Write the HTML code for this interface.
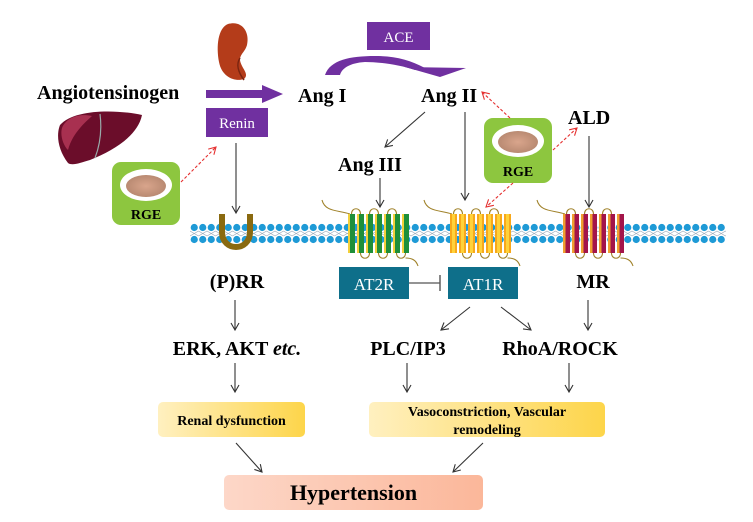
<!DOCTYPE html>
<html><head><meta charset="utf-8"><style>
html,body{margin:0;padding:0;background:#fff;}
svg{display:block;}
text{font-family:"Liberation Serif",serif;}
</style></head><body>
<svg width="753" height="522" viewBox="0 0 753 522" xmlns="http://www.w3.org/2000/svg">
<defs>
<pattern id="mem" x="190" y="0" width="8.5" height="522" patternUnits="userSpaceOnUse">
<line x1="0" y1="231" x2="8.5" y2="236" stroke="#9aa9b8" stroke-width="0.6"/>
<line x1="0" y1="236" x2="8.5" y2="231" stroke="#9aa9b8" stroke-width="0.6"/>
<circle cx="4.25" cy="227.5" r="3.6" fill="#1e9ad6"/>
<circle cx="4.25" cy="239.5" r="3.6" fill="#1e9ad6"/>
</pattern>
<marker id="ah" markerWidth="10" markerHeight="10" refX="8" refY="5" orient="auto" markerUnits="userSpaceOnUse">
<path d="M1,1 L8,5 L1,9" fill="none" stroke="#333" stroke-width="1.1"/></marker>
<marker id="rh" markerWidth="10" markerHeight="10" refX="8" refY="5" orient="auto" markerUnits="userSpaceOnUse">
<path d="M1,1 L8,5 L1,9" fill="none" stroke="#e53030" stroke-width="1.1"/></marker>
<linearGradient id="yg" x1="0" x2="1"><stop offset="0" stop-color="#fff0c0"/><stop offset="1" stop-color="#fdd54a"/></linearGradient>
<linearGradient id="pg" x1="0" x2="1"><stop offset="0" stop-color="#fdd7c8"/><stop offset="1" stop-color="#fbb79a"/></linearGradient>
<radialGradient id="food"><stop offset="0" stop-color="#d9a58c"/><stop offset="1" stop-color="#b98a72"/></radialGradient>
<g id="loops" stroke="#a0822a" stroke-width="1.1" fill="none">
<path d="M351.5,214 C351.5,207 360.5,207 360.5,214"/><path d="M369.5,214 C369.5,207 378.5,207 378.5,214"/><path d="M387.5,214 C387.5,207 396.5,207 396.5,214"/>
<path d="M360.5,253 C360.5,260 369.5,260 369.5,253"/><path d="M378.5,253 C378.5,260 387.5,260 387.5,253"/><path d="M396.5,253 C396.5,260 405.5,260 405.5,253"/>
<path d="M322,200 C325,212 338,210 350,214"/>
<path d="M405.5,258 C412,258 416,260 418,266"/>
</g>
</defs>

<rect x="190" y="222" width="536" height="22" fill="url(#mem)"/>

<text x="37" y="99" font-size="20" font-weight="bold">Angiotensinogen</text>
<path d="M60,125 C75,108 120,110 142,115 C138,135 115,150 90,160 C80,163 72,166 68,163 C58,150 56,135 60,125Z" fill="#6b0d2a"/>
<path d="M62,128 C66,118 78,113 92,116 C82,125 72,135 68,150 C63,145 60,135 62,128Z" fill="#a83050"/>
<path d="M100,114 C102,130 100,145 95,158" stroke="#9aa" stroke-width="1.2" fill="none"/>

<path d="M228,24 C242,20 250,32 247,45 C245,52 240,54 240,60 C241,68 250,74 244,79 C236,82 222,78 219,62 C216,46 218,28 228,24Z" fill="#b43c1a"/>
<path d="M240,58 C236,64 238,72 244,80" stroke="#7a2410" stroke-width="1.5" fill="none"/>

<polygon points="206,90 262,90 262,85 283,94 262,103 262,98 206,98" fill="#7030a0"/>
<rect x="206" y="108" width="62" height="29" fill="#7030a0"/>
<text x="237" y="128" font-size="15" fill="#fff" text-anchor="middle">Renin</text>

<text x="298" y="102" font-size="20" font-weight="bold">Ang I</text>

<rect x="367" y="22" width="63" height="28" fill="#7030a0"/>
<text x="398.5" y="42" font-size="15" fill="#fff" text-anchor="middle">ACE</text>
<path d="M325,75 C330,60 350,56 375,56 C395,56 410,60 425,68 L415,70 C400,65 380,62 365,62 C350,63 342,68 340,75 Z" fill="#7030a0"/>
<polygon points="405,67 466,68 440,77" fill="#7030a0"/>

<text x="421" y="102" font-size="20" font-weight="bold">Ang II</text>
<text x="568" y="124" font-size="20" font-weight="bold">ALD</text>
<text x="338" y="171" font-size="20" font-weight="bold">Ang III</text>

<g>
<rect x="112" y="162" width="68" height="63" rx="9" fill="#8dc63f"/>
<ellipse cx="146" cy="185" rx="26" ry="16" fill="#fff"/>
<ellipse cx="146" cy="186" rx="20" ry="11" fill="url(#food)"/>
<text x="146" y="219" font-size="14" font-weight="bold" text-anchor="middle">RGE</text>
</g>
<g>
<rect x="484" y="118" width="68" height="65" rx="9" fill="#8dc63f"/>
<ellipse cx="518" cy="141" rx="26" ry="16" fill="#fff"/>
<ellipse cx="518" cy="142" rx="20" ry="11" fill="url(#food)"/>
<text x="518" y="176" font-size="14" font-weight="bold" text-anchor="middle">RGE</text>
</g>

<g stroke="#e53030" stroke-width="1.1" stroke-dasharray="3,2" fill="none">
<line x1="181" y1="182" x2="216" y2="147" marker-end="url(#rh)"/>
<line x1="510" y1="118" x2="482" y2="92" marker-end="url(#rh)"/>
<line x1="553" y1="150" x2="577" y2="128" marker-end="url(#rh)"/>
<line x1="513" y1="183" x2="486" y2="207" marker-end="url(#rh)"/>
</g>

<g stroke="#333" stroke-width="1.1" fill="none">
<line x1="236" y1="143" x2="236" y2="213" marker-end="url(#ah)"/>
<line x1="425" y1="112" x2="385" y2="147" marker-end="url(#ah)"/>
<line x1="380" y1="178" x2="380" y2="207" marker-end="url(#ah)"/>
<line x1="465" y1="112" x2="465" y2="200" marker-end="url(#ah)"/>
<line x1="589" y1="136" x2="589" y2="207" marker-end="url(#ah)"/>
<line x1="235" y1="300" x2="235" y2="330" marker-end="url(#ah)"/>
<line x1="470" y1="307" x2="441" y2="330" marker-end="url(#ah)"/>
<line x1="501" y1="307" x2="531" y2="330" marker-end="url(#ah)"/>
<line x1="588" y1="300" x2="588" y2="330" marker-end="url(#ah)"/>
<line x1="235" y1="363" x2="235" y2="392" marker-end="url(#ah)"/>
<line x1="407" y1="363" x2="407" y2="392" marker-end="url(#ah)"/>
<line x1="569" y1="363" x2="569" y2="392" marker-end="url(#ah)"/>
<line x1="236" y1="443" x2="262" y2="472" marker-end="url(#ah)"/>
<line x1="483" y1="443" x2="453" y2="472" marker-end="url(#ah)"/>
</g>

<path d="M222,214 L222,232 C222,252 250,252 250,232 L250,214" stroke="#8a6a10" stroke-width="6" fill="none"/>

<g>
<use href="#loops"/>
<g fill="#1e8f3a">
<rect x="348" y="214" width="7" height="39"/><rect x="357" y="214" width="7" height="39"/><rect x="366" y="214" width="7" height="39"/><rect x="375" y="214" width="7" height="39"/><rect x="384" y="214" width="7" height="39"/><rect x="393" y="214" width="7" height="39"/><rect x="402" y="214" width="7" height="39"/>
</g>
<g fill="#f2d03a"><rect x="348" y="214" width="2" height="39"/><rect x="357" y="214" width="2" height="39"/><rect x="366" y="214" width="2" height="39"/><rect x="375" y="214" width="2" height="39"/><rect x="384" y="214" width="2" height="39"/><rect x="393" y="214" width="2" height="39"/><rect x="402" y="214" width="2" height="39"/></g>
</g>
<g transform="translate(102,0)">
<use href="#loops"/>
<g fill="#f7a81b">
<rect x="348" y="214" width="7" height="39"/><rect x="357" y="214" width="7" height="39"/><rect x="366" y="214" width="7" height="39"/><rect x="375" y="214" width="7" height="39"/><rect x="384" y="214" width="7" height="39"/><rect x="393" y="214" width="7" height="39"/><rect x="402" y="214" width="7" height="39"/>
</g>
<g fill="#ffd23a"><rect x="350" y="214" width="3" height="39"/><rect x="359" y="214" width="3" height="39"/><rect x="368" y="214" width="3" height="39"/><rect x="377" y="214" width="3" height="39"/><rect x="386" y="214" width="3" height="39"/><rect x="395" y="214" width="3" height="39"/><rect x="404" y="214" width="3" height="39"/></g>
</g>
<g transform="translate(215,0)">
<use href="#loops"/>
<g fill="#a3154a">
<rect x="348" y="214" width="7" height="39"/><rect x="357" y="214" width="7" height="39"/><rect x="366" y="214" width="7" height="39"/><rect x="375" y="214" width="7" height="39"/><rect x="384" y="214" width="7" height="39"/><rect x="393" y="214" width="7" height="39"/><rect x="402" y="214" width="7" height="39"/>
</g>
<g fill="#f0a030"><rect x="348" y="214" width="2.5" height="39"/><rect x="357" y="214" width="2.5" height="39"/><rect x="366" y="214" width="2.5" height="39"/><rect x="375" y="214" width="2.5" height="39"/><rect x="384" y="214" width="2.5" height="39"/><rect x="393" y="214" width="2.5" height="39"/><rect x="402" y="214" width="2.5" height="39"/></g>
</g>

<rect x="339" y="267" width="70" height="32" fill="#0e6f8a"/>
<text x="374" y="290" font-size="17" fill="#fff" text-anchor="middle">AT2R</text>
<rect x="448" y="267" width="70" height="32" fill="#0e6f8a"/>
<text x="483" y="290" font-size="17" fill="#fff" text-anchor="middle">AT1R</text>
<line x1="409" y1="283" x2="440" y2="283" stroke="#555" stroke-width="1.2"/>
<line x1="440" y1="275" x2="440" y2="291" stroke="#555" stroke-width="1.4"/>

<text x="237" y="288" font-size="20" font-weight="bold" text-anchor="middle">(P)RR</text>
<text x="593" y="288" font-size="20" font-weight="bold" text-anchor="middle">MR</text>

<text x="237" y="355" font-size="20" font-weight="bold" text-anchor="middle">ERK, AKT <tspan font-style="italic">etc.</tspan></text>
<text x="408" y="355" font-size="20" font-weight="bold" text-anchor="middle">PLC/IP3</text>
<text x="560" y="355" font-size="20" font-weight="bold" text-anchor="middle">RhoA/ROCK</text>

<rect x="158" y="402" width="147" height="35" rx="5" fill="url(#yg)"/>
<text x="231.5" y="425" font-size="14" font-weight="bold" text-anchor="middle">Renal dysfunction</text>
<rect x="369" y="402" width="236" height="35" rx="5" fill="url(#yg)"/>
<text x="487" y="416" font-size="14" font-weight="bold" text-anchor="middle">Vasoconstriction, Vascular</text>
<text x="487" y="434" font-size="14" font-weight="bold" text-anchor="middle">remodeling</text>

<rect x="224" y="475" width="259" height="35" rx="5" fill="url(#pg)"/>
<text x="353.5" y="500" font-size="22" font-weight="bold" text-anchor="middle">Hypertension</text>
</svg>
</body></html>
